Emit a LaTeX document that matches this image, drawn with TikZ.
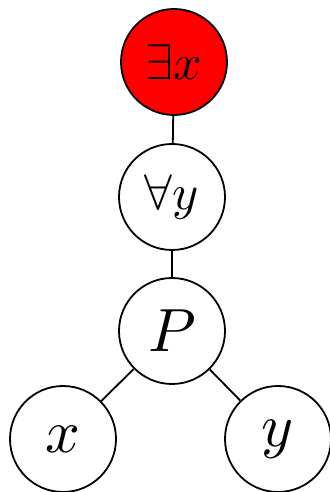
\documentclass[tikz,border=0pt]{standalone}
\usepackage{graphicx}
\newcommand{\lblbig}[1]{\scalebox{6.1}{$#1$}}
\newcommand{\lblmid}[1]{\scalebox{5.0}{$#1$}}
\begin{document}
\begin{tikzpicture}[x=1pt,y=1pt,
  vert/.style={circle,draw,line width=1.8pt,minimum size=106pt,inner sep=0pt,fill=white},
  edge/.style={line width=1.8pt}]
\useasboundingbox (0,0) rectangle (329,492);
\node[vert,fill=red] (E) at (174,430) {\lblmid{\exists x}};
\node[vert] (A) at (172,295) {\lblmid{\forall y}};
\node[vert] (P) at (172,161) {\lblbig{P}};
\node[vert] (X) at (63,53) {\lblbig{x}};
\node[vert] (Y) at (278,53) {\lblbig{y}};
\draw[edge] (E) -- (A);
\draw[edge] (A) -- (P);
\draw[edge] (P) -- (X);
\draw[edge] (P) -- (Y);
\end{tikzpicture}
\end{document}
